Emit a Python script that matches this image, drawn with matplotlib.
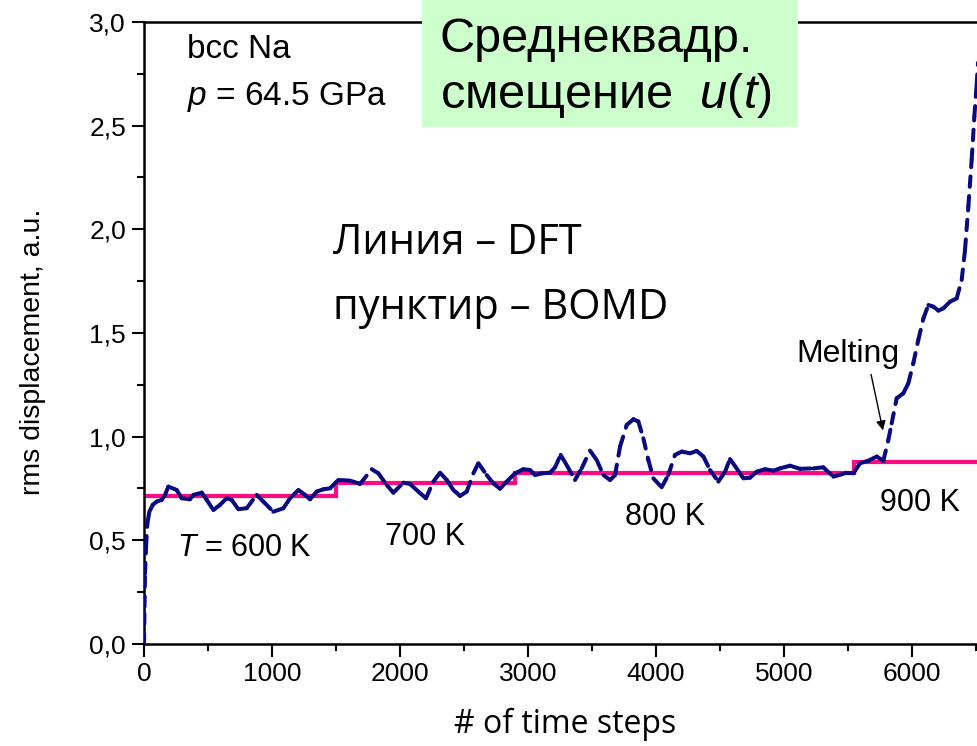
import matplotlib
matplotlib.use("Agg")
import matplotlib.pyplot as plt
from matplotlib.collections import LineCollection
from matplotlib.patches import Rectangle
from matplotlib.ticker import MultipleLocator, FuncFormatter
import numpy as np

plt.rcParams['font.family'] = ['Liberation Sans', 'DejaVu Sans']
plt.rcParams['mathtext.fontset'] = 'custom'
plt.rcParams['mathtext.rm'] = 'Liberation Sans'
plt.rcParams['mathtext.it'] = 'Liberation Sans:italic'

# DFT: stepwise rms displacement per temperature stage
dft_steps = [0, 1500, 2900, 5550, 6600]
dft_values = [0.715, 0.775, 0.826, 0.876]

# BOMD trajectory: (time step, rms displacement)
bomd_steps = [0, 4, 8, 16, 26, 42, 68, 99, 138, 164, 190, 255, 294, 359, 385, 451,
              490, 542, 594, 646, 685, 737, 802, 880, 932, 1010, 1089, 1141, 1206,
              1258, 1297, 1349, 1401, 1453, 1518, 1609, 1688, 1779, 1831, 1896,
              1948, 2026, 2078, 2143, 2203, 2260, 2313, 2365, 2417, 2469, 2521,
              2573, 2612, 2677, 2729, 2781, 2833, 2898, 2964, 3016, 3055, 3107,
              3172, 3211, 3255, 3302, 3367, 3419, 3484, 3536, 3589, 3641, 3680,
              3719, 3771, 3823, 3862, 3901, 3940, 3979, 4044, 4096, 4148, 4201,
              4266, 4318, 4370, 4422, 4487, 4539, 4578, 4630, 4682, 4734, 4786,
              4852, 4917, 4969, 5047, 5125, 5229, 5307, 5385, 5477, 5542, 5594,
              5659, 5724, 5776, 5815, 5841, 5880, 5932, 5971, 6010, 6049, 6089,
              6128, 6167, 6206, 6245, 6297, 6349, 6388, 6414, 6440, 6466, 6487,
              6505, 6520]
bomd_values = [0.0, 0.18, 0.341, 0.470, 0.582, 0.638, 0.671, 0.687, 0.695, 0.719,
               0.759, 0.743, 0.703, 0.698, 0.719, 0.730, 0.695, 0.646, 0.671,
               0.703, 0.695, 0.650, 0.655, 0.719, 0.687, 0.638, 0.655, 0.703,
               0.743, 0.719, 0.698, 0.735, 0.746, 0.751, 0.791, 0.788, 0.772,
               0.843, 0.823, 0.767, 0.730, 0.778, 0.772, 0.735, 0.703, 0.783,
               0.826, 0.791, 0.743, 0.714, 0.735, 0.823, 0.872, 0.815, 0.775,
               0.749, 0.783, 0.823, 0.843, 0.839, 0.815, 0.823, 0.826, 0.852,
               0.912, 0.863, 0.791, 0.847, 0.933, 0.888, 0.815, 0.791, 0.815,
               0.952, 1.056, 1.084, 1.073, 0.992, 0.888, 0.799, 0.756, 0.815,
               0.912, 0.928, 0.920, 0.931, 0.904, 0.839, 0.783, 0.831, 0.892,
               0.847, 0.799, 0.802, 0.831, 0.843, 0.836, 0.847, 0.860, 0.845,
               0.847, 0.852, 0.807, 0.823, 0.823, 0.872, 0.884, 0.904, 0.884,
               0.984, 1.064, 1.185, 1.209, 1.257, 1.354, 1.466, 1.571, 1.635,
               1.627, 1.608, 1.619, 1.651, 1.667, 1.756, 1.901, 2.110, 2.335,
               2.544, 2.697, 2.85]

fig = plt.figure(figsize=(9.77, 7.46), dpi=100)
ax = fig.add_axes([0.1474, 0.13673, 0.8647, 0.8338])
ax.set_xlim(0, 6600)
ax.set_ylim(0, 3.0)

# DFT staircase
ax.stairs(dft_values, dft_steps, color='#ff0a7f', linewidth=3.0, zorder=2,
          baseline=None)

# BOMD curve: dash pattern restarts on every data segment
pts = np.column_stack([bomd_steps, bomd_values])
segs = np.stack([pts[:-1], pts[1:]], axis=1)
lc = LineCollection(segs, colors='#0a0a80', linewidths=2.9,
                    linestyles=[(0, (2.6, 2.3))], capstyle='round',
                    joinstyle='round', zorder=3)
ax.add_collection(lc)

# axes styling
for side in ['left', 'bottom', 'top', 'right']:
    ax.spines[side].set_linewidth(1.8)
ax.xaxis.set_major_locator(MultipleLocator(1000))
ax.xaxis.set_minor_locator(MultipleLocator(500))
ax.yaxis.set_major_locator(MultipleLocator(0.5))
ax.yaxis.set_minor_locator(MultipleLocator(0.25))
ax.yaxis.set_major_formatter(FuncFormatter(lambda v, p: f"{v:.1f}".replace('.', ',')))
ax.xaxis.set_major_formatter(FuncFormatter(lambda v, p: f"{int(v)}"))
ax.tick_params(axis='both', which='major', direction='out', length=9, width=1.5,
               labelsize=19, pad=4)
ax.tick_params(axis='both', which='minor', direction='out', length=5, width=1.5)
ax.tick_params(top=False, right=False, which='both')

ax.set_xlabel('# of time steps', fontsize=23, family=['Open Sans', 'DejaVu Sans'])
ax.xaxis.set_label_coords(0.498, -0.103)
ax.set_ylabel('rms displacement, a.u.', fontsize=20.5)
ax.yaxis.set_label_coords(-0.116, 0.47)

# annotations
ax.text(336, 2.865, 'bcc Na', fontsize=24, va='center', ha='left')
ax.text(336, 2.639, r'$p$ = 64.5 GPa', fontsize=24, va='center', ha='left')
ax.text(1477, 1.934, 'Линия – DFT', fontsize=30, va='center', ha='left',
        family=['Open Sans', 'DejaVu Sans'])
ax.text(1477, 1.621, 'пунктир – BOMD', fontsize=30, va='center', ha='left',
        family=['Open Sans', 'DejaVu Sans'])
ax.text(258, 0.463, r'$T$ = 600 K', fontsize=22, va='center', ha='left')
ax.text(1883, 0.516, '700 K', fontsize=22, va='center', ha='left')
ax.text(3758, 0.613, '800 K', fontsize=22, va='center', ha='left')
ax.text(5750, 0.680, '900 K', fontsize=22, va='center', ha='left')
ax.text(5500, 1.40, 'Melting', fontsize=23, va='center', ha='center')
ax.annotate('', xy=(5773, 1.03), xytext=(5680, 1.30),
            arrowprops=dict(arrowstyle='-|>', color='black', lw=1.0,
                            mutation_scale=14, shrinkA=0, shrinkB=0))

# title box straddling the top spine
box = Rectangle((422 / 977, 1 - 127 / 746), (798 - 422) / 977, 127 / 746,
                transform=fig.transFigure, facecolor='#ccffcc', edgecolor='none',
                zorder=5)
fig.add_artist(box)
fig.text(440 / 977, 1 - 40 / 746, 'Среднеквадр.', fontsize=35, va='center',
         ha='left', zorder=6)
fig.text(440 / 977, 1 - 96 / 746, r'смещение  $u$($t$)', fontsize=35,
         va='center', ha='left', zorder=6)

fig.savefig('out.png', dpi=100)
